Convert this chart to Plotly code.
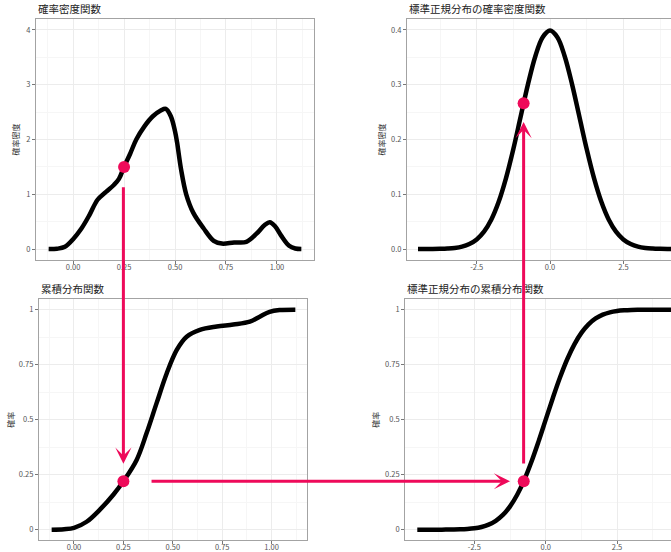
import plotly.graph_objects as go

# ---- sample distribution: kernel density estimate and its CDF ----
dens_x = [-0.12, -0.08, -0.04, 0.00, 0.04, 0.08, 0.12, 0.16, 0.20, 0.225, 0.25,
          0.28, 0.31, 0.35, 0.39, 0.43, 0.455, 0.48, 0.50, 0.51, 0.53, 0.555,
          0.59, 0.64, 0.69, 0.73, 0.79, 0.85, 0.90, 0.94, 0.965, 0.99, 1.02,
          1.06, 1.09, 1.12]
dens_y = [0.00, 0.005, 0.04, 0.18, 0.37, 0.62, 0.90, 1.04, 1.17, 1.28, 1.50,
          1.74, 2.00, 2.24, 2.42, 2.53, 2.56, 2.42, 2.15, 1.95, 1.45, 1.00,
          0.66, 0.38, 0.15, 0.10, 0.12, 0.13, 0.28, 0.44, 0.49, 0.42, 0.25,
          0.06, 0.01, 0.00]

cdf_x = [-0.113, -0.05, 0.00, 0.064, 0.13, 0.20, 0.25, 0.317, 0.368, 0.418,
         0.469, 0.52, 0.57, 0.637, 0.722, 0.806, 0.89, 0.94, 0.99, 1.04, 1.12]
cdf_y = [0.000, 0.002, 0.008, 0.036, 0.09, 0.16, 0.22, 0.317, 0.44, 0.575,
         0.71, 0.817, 0.877, 0.908, 0.923, 0.932, 0.945, 0.968, 0.99, 0.998, 1.0]

# ---- standard normal distribution ----
norm_x = [-4.5, -4.25, -4.0, -3.75, -3.5, -3.25, -3.0, -2.75, -2.5, -2.25, -2.0,
          -1.75, -1.5, -1.25, -1.0, -0.75, -0.5, -0.25, 0.0, 0.25, 0.5, 0.75,
          1.0, 1.25, 1.5, 1.75, 2.0, 2.25, 2.5, 2.75, 3.0, 3.25, 3.5, 3.75,
          4.0, 4.25, 4.5]
norm_pdf = [0.00002, 0.00005, 0.0001, 0.0004, 0.0009, 0.0020, 0.0044, 0.0091,
            0.0175, 0.0317, 0.0540, 0.0863, 0.1295, 0.1826, 0.2420, 0.3011,
            0.3521, 0.3867, 0.3989, 0.3867, 0.3521, 0.3011, 0.2420, 0.1826,
            0.1295, 0.0863, 0.0540, 0.0317, 0.0175, 0.0091, 0.0044, 0.0020,
            0.0009, 0.0004, 0.0001, 0.00005, 0.00002]
norm_cdf = [0.0000, 0.0000, 0.00003, 0.0001, 0.0002, 0.0006, 0.0013, 0.0030,
            0.0062, 0.0122, 0.0228, 0.0401, 0.0668, 0.1056, 0.1587, 0.2266,
            0.3085, 0.4013, 0.5000, 0.5987, 0.6915, 0.7734, 0.8413, 0.8944,
            0.9332, 0.9599, 0.9772, 0.9878, 0.9938, 0.9970, 0.9987, 0.9994,
            0.9998, 0.9999, 0.99997, 1.0000, 1.0000]

# ---- highlighted points (probability transform) ----
pt_sample_x = 0.25
pt_sample_dens = 1.50
pt_sample_cdf = 0.22
pt_norm_x_cdf = -0.77
pt_norm_x_pdf = -0.90
pt_norm_pdf = 0.266

# ---- tick labels ----
unit_vals = [0.0, 0.25, 0.5, 0.75, 1.0]
unit_text_x = ["0.00", "0.25", "0.50", "0.75", "1.00"]
unit_text_y = ["0", "0.25", "0.5", "0.75", "1"]
dens_vals = [0, 1, 2, 3, 4]
dens_text = ["0", "1", "2", "3", "4"]
npdf_vals = [0.0, 0.1, 0.2, 0.3, 0.4]
npdf_text = ["0.0", "0.1", "0.2", "0.3", "0.4"]
z_vals = [-2.5, 0.0, 2.5]
z_text = ["-2.5", "0.0", "2.5"]

titles = ["確率密度関数", "標準正規分布の確率密度関数",
          "累積分布関数", "標準正規分布の累積分布関数"]
ylabels = ["確率密度", "確率密度", "確率", "確率"]

W, H = 671, 552
FONT = "Noto Sans CJK JP, Noto Sans, sans-serif"
PINK = "#EE0A5A"
GRID = "#ECECEC"
MINOR = "#F6F6F6"
BORDER = "#A3A3A3"

fig = go.Figure()

line_style = dict(color="black", width=4.5, shape="spline")
fig.add_trace(go.Scatter(x=dens_x, y=dens_y, mode="lines", line=line_style,
                         xaxis="x", yaxis="y"))
fig.add_trace(go.Scatter(x=norm_x, y=norm_pdf, mode="lines", line=line_style,
                         xaxis="x2", yaxis="y2"))
fig.add_trace(go.Scatter(x=cdf_x, y=cdf_y, mode="lines", line=line_style,
                         xaxis="x3", yaxis="y3"))
fig.add_trace(go.Scatter(x=norm_x, y=norm_cdf, mode="lines", line=line_style,
                         xaxis="x4", yaxis="y4"))

marker = dict(color=PINK, size=12)
fig.add_trace(go.Scatter(x=[pt_sample_x], y=[pt_sample_dens], mode="markers",
                         marker=marker, xaxis="x", yaxis="y"))
fig.add_trace(go.Scatter(x=[pt_norm_x_pdf], y=[pt_norm_pdf], mode="markers",
                         marker=marker, xaxis="x2", yaxis="y2"))
fig.add_trace(go.Scatter(x=[pt_sample_x], y=[pt_sample_cdf], mode="markers",
                         marker=marker, xaxis="x3", yaxis="y3"))
fig.add_trace(go.Scatter(x=[pt_norm_x_cdf], y=[pt_sample_cdf], mode="markers",
                         marker=marker, xaxis="x4", yaxis="y4"))


def px_x(a, b):
    return [a / W, b / W]


def px_y(top, bottom):
    return [1 - bottom / H, 1 - top / H]


tickfont = dict(family=FONT, size=7.5, color="#555555")


def axis(domain, rng, vals, text, minor_dtick, anchor, mirror=True,
         label_shift=0):
    return dict(domain=domain, range=rng, anchor=anchor, tickvals=vals,
                ticktext=text, tickfont=tickfont, ticks="outside", ticklen=3,
                tickcolor="#777777", showgrid=True, gridcolor=GRID,
                gridwidth=1, zeroline=False, showline=True, linecolor=BORDER,
                linewidth=1.2, mirror=mirror, automargin=False,
                ticklabelstandoff=label_shift,
                minor=dict(dtick=minor_dtick, tick0=0, showgrid=True,
                           gridcolor=MINOR, gridwidth=1))


def xaxis(domain, rng, vals, text, minor_dtick, anchor):
    return axis(domain, rng, vals, text, minor_dtick, anchor, True, -3)


def yaxis(domain, rng, vals, text, minor_dtick, anchor, title, standoff,
          mirror=True):
    d = axis(domain, rng, vals, text, minor_dtick, anchor, mirror, 0)
    d["title"] = dict(text=title, font=dict(family=FONT, size=8,
                                            color="#333333"),
                      standoff=standoff)
    return d


top = px_y(19, 260)
bot = px_y(299.3, 540)

fig.update_layout(
    width=W, height=H, margin=dict(l=0, r=0, t=0, b=0),
    paper_bgcolor="white", plot_bgcolor="white", showlegend=False,
    font=dict(family=FONT),
    xaxis=xaxis(px_x(36, 314), [-0.182, 1.182], unit_vals, unit_text_x,
                0.125, "y"),
    yaxis=yaxis(top, [-0.2, 4.2], dens_vals, dens_text, 0.5, "x",
                ylabels[0], 5),
    xaxis2=xaxis(px_x(407, W), [-4.876, 4.125], z_vals, z_text, 1.25, "y2"),
    yaxis2=yaxis(top, [-0.02, 0.42], npdf_vals, npdf_text, 0.05, "x2",
                 ylabels[1], 4, mirror=False),
    xaxis3=xaxis(px_x(39, 307), [-0.177, 1.179], unit_vals, unit_text_x,
                 0.125, "y3"),
    yaxis3=yaxis(bot, [-0.047, 1.047], unit_vals, unit_text_y, 0.125, "x3",
                 ylabels[2], 3),
    xaxis4=xaxis(px_x(405.3, W), [-4.92, 4.39], z_vals, z_text, 1.25, "y4"),
    yaxis4=yaxis(bot, [-0.047, 1.047], unit_vals, unit_text_y, 0.125, "x4",
                 ylabels[3], 4, mirror=False),
)

# panel titles
for i, t in enumerate(titles):
    sfx = "" if i == 0 else str(i + 1)
    fig.add_annotation(text=t, xref=f"x{sfx} domain", yref=f"y{sfx} domain",
                       x=0, y=1, xanchor="left", yanchor="bottom",
                       yshift=1, showarrow=False,
                       font=dict(family=FONT, size=10.5, color="#222222"))

# arrows carrying the probability from one panel to the next
arrow = dict(text="", showarrow=True, arrowhead=3, arrowsize=0.9,
             arrowwidth=3, arrowcolor=PINK, axref="pixel", ayref="pixel")
fig.add_annotation(xref="x3", yref="y3", x=pt_sample_x, y=0.30,
                   ax=0, ay=-278, **arrow)
fig.add_annotation(xref="x4", yref="y4", x=-1.25, y=pt_sample_cdf,
                   ax=-360, ay=0, **arrow)
fig.add_annotation(xref="x2", yref="y2", x=pt_norm_x_pdf, y=0.232,
                   ax=0, ay=343, **arrow)

fig.write_html("out.html")
